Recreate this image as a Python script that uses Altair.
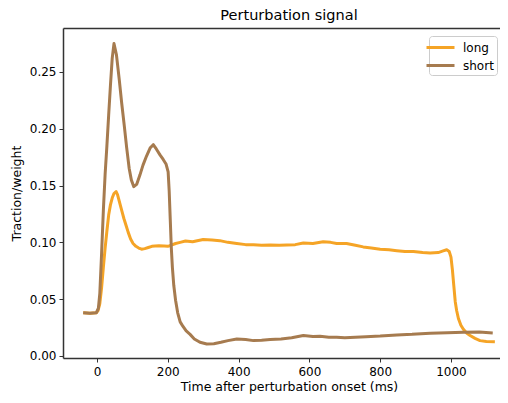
import altair as alt
import pandas as pd

# ---- data ----
long_t = [-39, -20, -2, 3, 8, 13, 18, 23, 28, 33, 38, 43, 48, 54, 58, 64, 70, 76, 82, 88,
          95, 102, 110, 118, 126, 135, 145, 155, 164, 175, 190, 200, 210, 222, 235, 250,
          270, 300, 325, 347, 370, 395, 420, 442, 465, 489, 515, 536, 560, 583, 610, 639,
          660, 677, 705, 730, 752, 775, 800, 825, 847, 870, 894, 920, 941, 964, 978, 988,
          995, 1000, 1004, 1008, 1012, 1016, 1021, 1028, 1035, 1045, 1054, 1068, 1082,
          1100, 1124]
long_v = [0.038, 0.0375, 0.038, 0.040, 0.046, 0.060, 0.078, 0.095, 0.110, 0.124, 0.133,
          0.139, 0.143, 0.1447, 0.142, 0.135, 0.128, 0.121, 0.115, 0.109, 0.103, 0.099,
          0.0965, 0.095, 0.094, 0.0945, 0.0955, 0.0965, 0.0968, 0.097, 0.0968, 0.0965,
          0.0975, 0.099, 0.100, 0.1012, 0.1005, 0.1025, 0.102, 0.1015, 0.100, 0.099,
          0.098, 0.098, 0.0975, 0.0977, 0.0975, 0.0977, 0.098, 0.0995, 0.099, 0.1006,
          0.100, 0.099, 0.099, 0.0975, 0.096, 0.095, 0.094, 0.0935, 0.0927, 0.092, 0.092,
          0.091, 0.0907, 0.091, 0.0925, 0.0935, 0.092, 0.087, 0.076, 0.062, 0.048, 0.040,
          0.033, 0.027, 0.0235, 0.020, 0.018, 0.0155, 0.0135, 0.0128, 0.0126]

short_t = [-39, -20, -2, 4, 8, 13, 18, 23, 28, 33, 38, 43, 48, 55, 63, 70, 77, 84, 91, 97,
           104, 112, 121, 130, 140, 150, 159, 168, 178, 187, 195, 201, 204, 207, 210, 213,
           217, 222, 228, 235, 243, 252, 263, 275, 291, 310, 330, 350, 370, 395, 420, 442,
           465, 489, 520, 550, 583, 610, 630, 655, 677, 700, 730, 760, 800, 847, 890, 941,
           990, 1035, 1080, 1118]
short_v = [0.038, 0.0375, 0.038, 0.042, 0.055, 0.090, 0.128, 0.160, 0.185, 0.212, 0.238,
           0.262, 0.275, 0.265, 0.243, 0.222, 0.203, 0.183, 0.165, 0.155, 0.149, 0.151,
           0.159, 0.168, 0.176, 0.183, 0.186, 0.182, 0.177, 0.173, 0.169, 0.162, 0.145,
           0.120, 0.095, 0.078, 0.062, 0.049, 0.038, 0.030, 0.026, 0.022, 0.019, 0.015,
           0.012, 0.0105, 0.0108, 0.012, 0.0135, 0.015, 0.0145, 0.0135, 0.0138, 0.0145,
           0.015, 0.016, 0.018, 0.0172, 0.0173, 0.0165, 0.0165, 0.016, 0.0165, 0.017,
           0.0175, 0.0185, 0.019, 0.020, 0.0205, 0.0208, 0.021, 0.0203]

series_names = ["long", "short"]
series_colors = ["#F5A426", "#A67B4F"]
x_ticks = [0, 200, 400, 600, 800, 1000]
y_ticks = [0.0, 0.05, 0.10, 0.15, 0.20, 0.25]

df = pd.concat([
    pd.DataFrame({"t": long_t, "v": long_v, "series": "long", "order": range(len(long_t))}),
    pd.DataFrame({"t": short_t, "v": short_v, "series": "short", "order": range(len(short_t))}),
])

FONT = "DejaVu Sans"
x_scale = alt.Scale(domain=[-96, 1138.5], nice=False, zero=False)
y_scale = alt.Scale(domain=[-0.0018, 0.2887], nice=False, zero=False)
y_axis = alt.Axis(values=y_ticks, title="Traction/weight", format=".2f", titlePadding=6)

lines = alt.Chart(df).mark_line(strokeWidth=3, strokeJoin="round", strokeCap="butt").encode(
    x=alt.X("t:Q", scale=x_scale,
            axis=alt.Axis(values=x_ticks, title="Time after perturbation onset (ms)",
                          format="d", titleX=226, titlePadding=3, labelPadding=4)),
    y=alt.Y("v:Q", scale=y_scale, axis=y_axis),
    color=alt.Color("series:N", scale=alt.Scale(domain=series_names, range=series_colors),
                    legend=alt.Legend(title=None, orient="none", legendX=366, legendY=8,
                                      symbolType="M-2,0L2,0", symbolStrokeWidth=3,
                                      symbolSize=196, labelFontSize=12, labelFont=FONT,
                                      labelColor="black", labelOffset=14, rowPadding=3,
                                      padding=3, fillColor="white", strokeColor="#cccccc",
                                      cornerRadius=3)),
    order="order:Q",
)

# invisible layer that only carries the top spine of the frame
top_frame = alt.Chart(df).mark_point(opacity=0).encode(
    x=alt.X("t:Q", scale=x_scale,
            axis=alt.Axis(orient="top", labels=False, ticks=False, title=None, domain=True)),
    y=alt.Y("v:Q", scale=y_scale, axis=y_axis),
)

chart = alt.layer(lines, top_frame).resolve_axis(x="independent").properties(
    width=437,
    height=330,
    title=alt.TitleParams("Perturbation signal", font=FONT, fontSize=14.5,
                          fontWeight="normal", color="black", anchor="middle",
                          offset=5, dx=7.5),
    autosize=alt.AutoSizeParams(type="none"),
    padding={"left": 55, "top": 20, "right": 0, "bottom": 37},
    background="white",
).configure_view(
    stroke=None
).configure_axis(
    domain=True, domainColor="#333333", domainWidth=1.5, grid=False,
    labelFont=FONT, labelFontSize=12, labelColor="black",
    titleFont=FONT, titleFontSize=12.5, titleFontWeight="normal", titleColor="black",
    tickColor="#333333", tickSize=4, tickWidth=1, labelPadding=3
)

chart.save("out.html", embed_options={"renderer": "svg", "actions": False})
